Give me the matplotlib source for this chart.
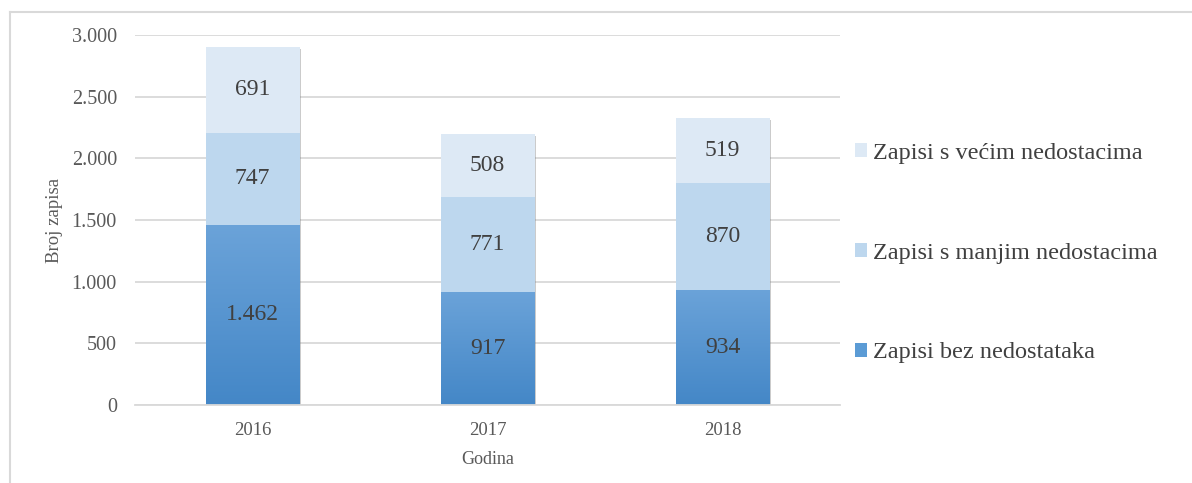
import matplotlib
matplotlib.use("Agg")
import matplotlib.pyplot as plt
import numpy as np
from matplotlib.colors import LinearSegmentedColormap
from matplotlib.patches import Patch
from matplotlib.lines import Line2D
import matplotlib.patheffects as pe

years = ["2016", "2017", "2018"]
bez = [1462, 917, 934]
manjim = [747, 771, 870]
vecim = [691, 508, 519]
series_names = ["Zapisi bez nedostataka", "Zapisi s manjim nedostacima", "Zapisi s većim nedostacima"]
yticks = [0, 500, 1000, 1500, 2000, 2500, 3000]

def fmt(v):
    return f"{v:,}".replace(",", ".")

plt.rcParams['font.family'] = ['Liberation Serif', 'DejaVu Serif']

fig = plt.figure(figsize=(11.92, 4.83), dpi=100)
W, H = 1192, 483
ax = fig.add_axes([135 / W, 1 - 405 / H, (840 - 135) / W, (405 - 35) / H])

x = np.arange(len(years))
bw = 0.4
c_top = "#dde9f5"
c_mid = "#bdd7ee"
c_bot_top = "#6ba3d9"
c_bot_bot = "#4487c7"
cmap = LinearSegmentedColormap.from_list("g", [c_bot_bot, c_bot_top])

bez_a = np.array(bez)
man_a = np.array(manjim)
vec_a = np.array(vecim)
totals = bez_a + man_a + vec_a

# soft shadow behind each full stack
ax.bar(x, totals, bw, color="white", zorder=1.9,
       path_effects=[pe.SimplePatchShadow(offset=(1.2, -1.2), shadow_rgbFace="#7f7f7f", alpha=0.4),
                     pe.Normal()])

b1 = ax.bar(x, bez, bw, color=c_bot_top, zorder=2)
for i, rect in enumerate(b1):
    grad = np.linspace(0, 1, 256).reshape(-1, 1)
    im = ax.imshow(grad, extent=(x[i] - bw / 2, x[i] + bw / 2, 0, bez[i]), origin="lower",
                   aspect="auto", cmap=cmap, zorder=2.1)
    im.set_clip_path(rect)
b2 = ax.bar(x, manjim, bw, bottom=bez_a, color=c_mid, zorder=2)
b3 = ax.bar(x, vecim, bw, bottom=bez_a + man_a, color=c_top, zorder=2)

lab_kw = dict(ha="center", va="center", fontsize=17, color="#404040", zorder=3)
for i in range(len(years)):
    ax.text(x[i], bez[i] / 2, fmt(bez[i]), **lab_kw)
    ax.text(x[i], bez[i] + manjim[i] / 2, fmt(manjim[i]), **lab_kw)
    ax.text(x[i], bez[i] + manjim[i] + vecim[i] / 2, fmt(vecim[i]), **lab_kw)

ax.set_xlim(-0.5, 2.5)
ax.set_ylim(0, 3000)
ax.set_yticks(yticks)
ax.set_yticklabels([fmt(v) for v in yticks])
ax.set_xticks(x)
ax.set_xticklabels(years)
ax.yaxis.grid(True, color="#d9d9d9", linewidth=1.3, zorder=0)
ax.set_axisbelow(True)
for s in ["top", "right", "left"]:
    ax.spines[s].set_visible(False)
ax.spines["bottom"].set_color("#d9d9d9")
ax.spines["bottom"].set_linewidth(1.3)
ax.tick_params(axis="both", length=0, colors="#595959")
ax.tick_params(axis="y", labelsize=14.5, pad=13)
ax.tick_params(axis="x", labelsize=13.5, pad=12)
ax.set_xlabel("Godina", fontsize=13, color="#595959", labelpad=9)
ax.set_ylabel("Broj zapisa", fontsize=13.5, color="#595959", labelpad=6)

handles = [Patch(facecolor=c_top), Patch(facecolor=c_mid), Patch(facecolor="#5b9bd5")]
labels = [series_names[2], series_names[1], series_names[0]]
fig.legend(handles, labels, loc="center left", bbox_to_anchor=(833 / W, 1 - 253 / H),
           frameon=False, fontsize=17.5, handlelength=0.5, handleheight=0.5,
           handletextpad=0.25, labelspacing=3.25, labelcolor="#404040")

# outer frame lines
fig.add_artist(Line2D([10 / W, 10 / W], [0, 1 - 12 / H], color="#d9d9d9", lw=1.5))
fig.add_artist(Line2D([10 / W, 1], [1 - 12 / H, 1 - 12 / H], color="#d9d9d9", lw=1.5))

fig.savefig("out.png", dpi=100)
